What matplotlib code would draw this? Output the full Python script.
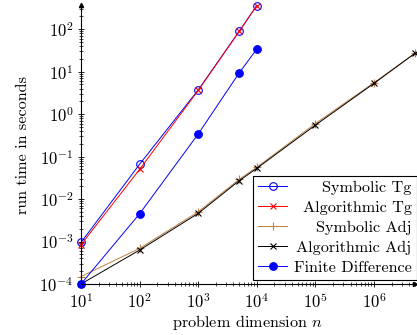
import numpy as np
import matplotlib
matplotlib.use("Agg")
import matplotlib.pyplot as plt

plt.rcParams['font.family'] = ['cmr10', 'DejaVu Serif']
plt.rcParams['mathtext.fontset'] = 'cm'
plt.rcParams['axes.formatter.use_mathtext'] = True

# problem sizes
n_tg = [10, 100, 1000, 5000, 10000]
n_adj = [10, 100, 1000, 5000, 10000, 100000, 1000000, 5000000]

# run times (seconds)
sym_tg = [0.00095, 0.066, 3.7, 89, 360]
alg_tg = [0.00084, 0.050, 3.6, 88, 360]
sym_adj = [0.00015, 0.00069, 0.0050, 0.029, 0.056, 0.60, 5.5, 27]
alg_adj = [0.0001, 0.00063, 0.0046, 0.027, 0.053, 0.55, 5.3, 27]
fin_diff = [0.0001, 0.0045, 0.34, 9.3, 34]

brown = (0.75, 0.5, 0.25)

fig = plt.figure(figsize=(4.17, 3.35), dpi=100)
ax = fig.add_axes([81 / 417, (335 - 284) / 335, (415 - 81) / 417, (284 - 5) / 335])

lw = 0.7
ax.plot(n_tg, sym_tg, color='blue', lw=lw, marker='o', mfc='none', mec='blue',
        ms=5.5, mew=0.8, label='Symbolic Tg', clip_on=False)
ax.plot(n_tg, alg_tg, color='red', lw=lw, marker='x', ms=4.5, mew=0.8,
        label='Algorithmic Tg', clip_on=False)
ax.plot(n_adj, sym_adj, color=brown, lw=lw, marker='+', ms=5.5, mew=0.8,
        label='Symbolic Adj', clip_on=False)
ax.plot(n_adj, alg_adj, color='black', lw=lw, marker='x', ms=4.5, mew=0.8,
        label='Algorithmic Adj', clip_on=False)
ax.plot(n_tg, fin_diff, color='blue', lw=lw, marker='o', ms=5.5, mew=0.8,
        label='Finite Difference', clip_on=False)

ax.set_xscale('log')
ax.set_yscale('log')
ax.set_xlim(10, 5e6)
ax.set_ylim(1e-4, 370)

# pgfplots style: axis lines on the left/bottom with arrow heads
ax.spines['top'].set_visible(False)
ax.spines['right'].set_visible(False)
ax.spines['left'].set_linewidth(0.8)
ax.spines['bottom'].set_linewidth(0.8)
ax.plot(1, 0, '>k', ms=3, transform=ax.transAxes, clip_on=False)
ax.plot(0, 1, '^k', ms=3, transform=ax.transAxes, clip_on=False)

ax.tick_params(which='major', direction='inout', length=5, width=0.6, labelsize=12, pad=3)
ax.tick_params(which='minor', direction='inout', length=3, width=0.5)
ax.xaxis.set_minor_locator(matplotlib.ticker.LogLocator(base=10, subs=np.arange(2, 10), numticks=20))
ax.yaxis.set_minor_locator(matplotlib.ticker.LogLocator(base=10, subs=np.arange(2, 10), numticks=20))
ax.xaxis.set_minor_formatter(matplotlib.ticker.NullFormatter())
ax.yaxis.set_minor_formatter(matplotlib.ticker.NullFormatter())

ax.set_xlabel('problem dimension $n$', fontsize=11.7, labelpad=1)
ax.set_ylabel('run time in seconds', fontsize=11.7, labelpad=7)

leg = ax.legend(loc='lower right', bbox_to_anchor=(416.5 / 417, (335 - 280) / 335),
                bbox_transform=fig.transFigure, borderaxespad=0, fancybox=False,
                framealpha=1, edgecolor='black', fontsize=11.7, handlelength=1.8,
                handletextpad=0.4, labelspacing=0.35, borderpad=0.3)
leg.get_frame().set_linewidth(0.8)

# right-align legend texts like pgfplots
fig.canvas.draw()
r = fig.canvas.get_renderer()
widths = [t.get_window_extent(r).width for t in leg.get_texts()]
maxw = max(widths)
items = [hp for col in leg._legend_handle_box.get_children() for hp in col.get_children()]
for hp, w in zip(items, widths):
    hp.sep = hp.sep + (maxw - w) * 72 / fig.dpi

fig.savefig('out.png', dpi=100)
